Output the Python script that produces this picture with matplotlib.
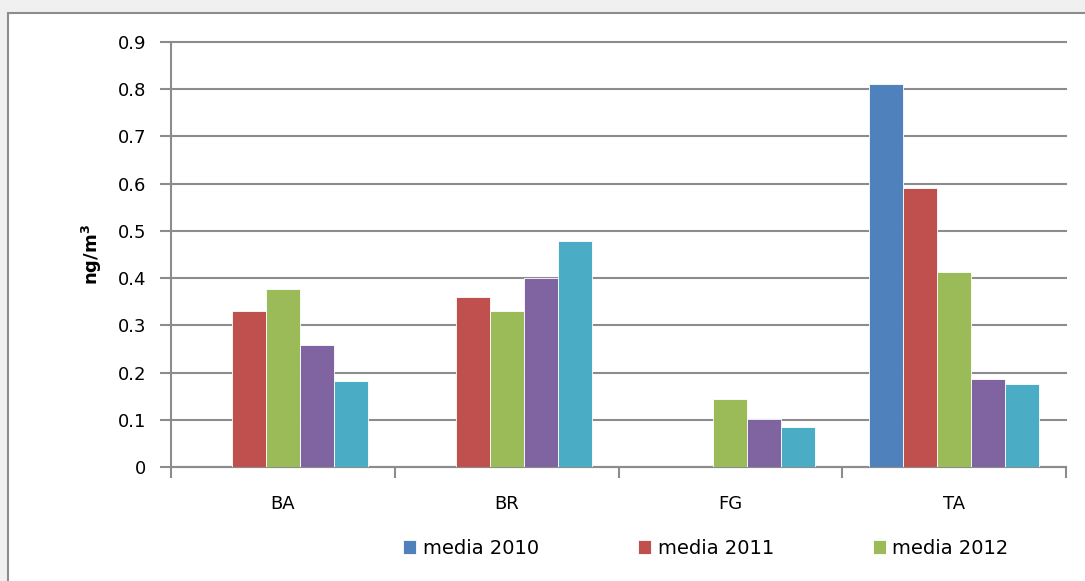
import matplotlib.pyplot as plt
import matplotlib.patches as mpatches
import numpy as np

plt.rcParams['font.family'] = ['DejaVu Sans']
plt.rcParams['mathtext.fontset'] = 'dejavusans'

categories = ['BA', 'BR', 'FG', 'TA']
series_names = ['media 2010', 'media 2011', 'media 2012', 'media 2013', 'media 2014']
media_2010 = [np.nan, np.nan, np.nan, 0.81]
media_2011 = [0.331, 0.361, np.nan, 0.590]
media_2012 = [0.378, 0.331, 0.145, 0.412]
media_2013 = [0.259, 0.401, 0.101, 0.187]
media_2014 = [0.183, 0.479, 0.085, 0.176]
colors = ['#4F81BD', '#C0504D', '#9BBB59', '#8064A2', '#4BACC6']

all_series = [media_2010, media_2011, media_2012, media_2013, media_2014]

fig = plt.figure(figsize=(10.85, 5.81), dpi=100)
fig.patch.set_facecolor('#f0f0f0')
# white chart frame, behind the axes
frame = mpatches.Rectangle((8 / 1085, -0.05), 1.1, 1 - 13 / 581 + 0.05,
                           transform=fig.transFigure, facecolor='white',
                           edgecolor='#8c8c8c', linewidth=1.5, zorder=-10)
fig.add_artist(frame)

ax = fig.add_axes([171 / 1085, 1 - 467 / 581, (1066 - 171) / 1085, (467 - 42) / 581])
ax.set_facecolor('none')

x = np.arange(len(categories))
w = 34 / 224
for i, (vals, c) in enumerate(zip(all_series, colors)):
    ax.bar(x + (i - 2) * w, vals, width=w, color=c, edgecolor='white', linewidth=0.6,
           label=series_names[i], zorder=3)

ax.set_xlim(-0.5, 3.5)
ax.set_ylim(0, 0.9)
ax.set_yticks(np.arange(0, 0.91, 0.1))
ax.set_yticklabels(['0'] + ['%.1f' % v for v in np.arange(0.1, 0.91, 0.1)], fontsize=13)
ax.yaxis.grid(True, color='#8c8c8c', linewidth=1.5, zorder=0)
for gl in ax.get_ygridlines():
    gl.set_clip_on(False)
ax.set_xticks(x)
ax.set_xticklabels(categories, fontsize=13)
ax.set_xticks(np.arange(-0.5, 3.6, 1), minor=True)
ax.tick_params(axis='x', which='major', length=0, pad=20)
ax.tick_params(axis='x', which='minor', length=8, width=1.5, color='#8c8c8c')
ax.tick_params(axis='y', length=8, width=1.5, color='#8c8c8c', pad=10)
for s in ['top', 'right']:
    ax.spines[s].set_visible(False)
for s in ['left', 'bottom']:
    ax.spines[s].set_color('#8c8c8c')
    ax.spines[s].set_linewidth(1.5)

fig.text(92 / 1085, 1 - 254 / 581, r'$\mathbf{ng/m^3}$', rotation=90, fontsize=13,
         ha='center', va='center')

handles, labels = ax.get_legend_handles_labels()
fig.legend(handles[:3], labels[:3], ncol=3, loc='center', bbox_to_anchor=(706 / 1085, 1 - 548 / 581),
           frameon=False, fontsize=14, handlelength=0.65, handleheight=0.75, handletextpad=0.35,
           columnspacing=5.1)

plt.savefig('out.png', dpi=100)
